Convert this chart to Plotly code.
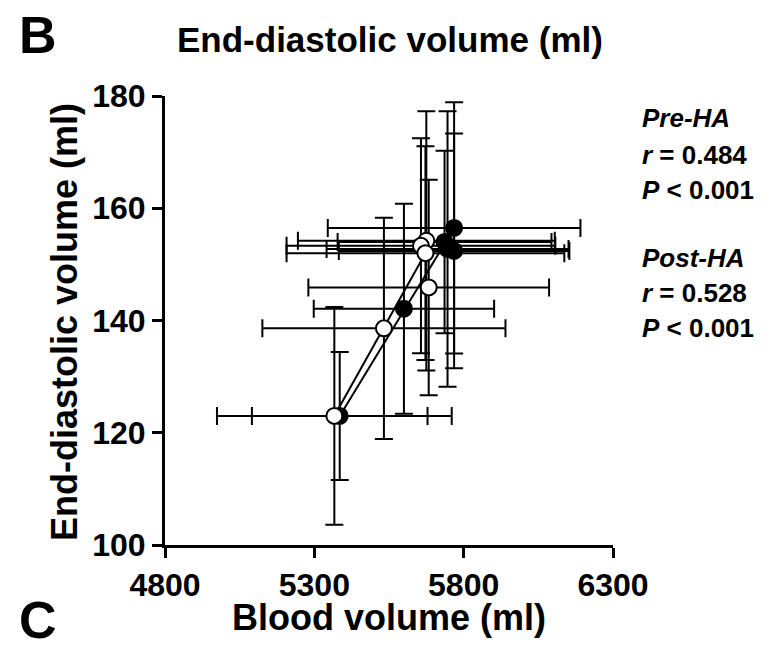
import plotly.graph_objects as go

# Pre-HA (filled) and Post-HA (open) group means with SD
pre_bv = [5768, 5736, 5746, 5768, 5600, 5385]
pre_bv_sd = [423, 358, 405, 386, 302, 294]
pre_edv = [156.5, 154.0, 152.75, 152.4, 142.1, 123.0]
pre_edv_sd = [22.4, 16.25, 24.55, 20.9, 18.7, 11.4]

post_bv = [5675, 5657, 5672, 5683, 5533, 5367]
post_bv_sd = [430, 450, 465, 403, 407, 393]
post_edv = [154.2, 153.3, 152.0, 145.9, 138.6, 123.0]
post_edv_sd = [23.1, 19.15, 19.05, 19.2, 19.7, 19.4]

# Regression line end points
pre_fit_bv = [5385, 5740]
pre_fit_edv = [123.0, 154.0]
post_fit_bv = [5367, 5672]
post_fit_edv = [123.0, 152.0]

x_ticks = [4800, 5300, 5800, 6300]
y_ticks = [100, 120, 140, 160, 180]

stats = [
    ("<b><i>Pre-HA</i></b>", 118),
    ("<b><i>r</i> = 0.484</b>", 155),
    ("<b><i>P</i> &lt; 0.001</b>", 190),
    ("<b><i>Post-HA</i></b>", 258),
    ("<b><i>r</i> = 0.528</b>", 293),
    ("<b><i>P</i> &lt; 0.001</b>", 328),
]

FONT = "Liberation Sans, Arial, sans-serif"
W, H = 776, 650
L, R, T, B = 165, 613, 96, 545  # plot area in px
pw, ph = R - L, B - T


def px(x):
    return (x - L) / pw


def py(y):
    return (B - y) / ph


def err(arr, width=9):
    return dict(type="data", array=arr, visible=True, color="black",
                thickness=2, width=width)


fig = go.Figure()

fig.add_trace(go.Scatter(
    x=pre_fit_bv, y=pre_fit_edv, mode="lines",
    line=dict(color="black", width=2), hoverinfo="skip", showlegend=False))
fig.add_trace(go.Scatter(
    x=post_fit_bv, y=post_fit_edv, mode="lines",
    line=dict(color="black", width=2), hoverinfo="skip", showlegend=False))

fig.add_trace(go.Scatter(
    x=pre_bv, y=pre_edv, mode="markers", name="Pre-HA",
    error_x=err(pre_bv_sd), error_y=err(pre_edv_sd),
    marker=dict(size=16, color="black", line=dict(color="black", width=2)),
    showlegend=False))
fig.add_trace(go.Scatter(
    x=post_bv, y=post_edv, mode="markers", name="Post-HA",
    error_x=err(post_bv_sd), error_y=err(post_edv_sd),
    marker=dict(size=16, color="white", line=dict(color="black", width=2)),
    showlegend=False))

axis_common = dict(
    showgrid=False, zeroline=False, showline=True, linecolor="black",
    linewidth=3, ticks="outside", ticklen=10, tickwidth=3, tickcolor="black",
    tickfont=dict(family=FONT, size=32, color="black"),
)

fig.update_xaxes(range=[4800, 6300], tickvals=x_ticks,
                 ticktext=[f"<b>{v}</b>" for v in x_ticks], **axis_common)
fig.update_yaxes(range=[100, 180], tickvals=y_ticks,
                 ticktext=[f"<b>{v}</b>" for v in y_ticks], **axis_common)

ann = []
ann.append(dict(text="<b>End-diastolic volume (ml)</b>", x=px(390), y=py(39),
                font=dict(size=35)))
ann.append(dict(text="<b>B</b>", x=px(38), y=py(35), font=dict(size=52)))
ann.append(dict(text="<b>C</b>", x=px(38), y=py(620), font=dict(size=52)))
ann.append(dict(text="<b>Blood volume (ml)</b>", x=px(389), y=py(617),
                font=dict(size=36)))
ann.append(dict(text="<b>End-diastolic volume (ml)</b>", x=px(64), y=py(322),
                textangle=-90, font=dict(size=36)))
for txt, yy in stats:
    ann.append(dict(text=txt, x=px(640), y=py(yy), xanchor="left",
                    font=dict(size=26)))

for a in ann:
    a.setdefault("xanchor", "center")
    a.update(xref="paper", yref="paper", yanchor="middle", showarrow=False)
    a["font"].update(family=FONT, color="black")

fig.update_layout(
    width=W, height=H,
    margin=dict(l=L, r=W - R, t=T, b=H - B, pad=0),
    paper_bgcolor="white", plot_bgcolor="white",
    annotations=ann,
)

fig.write_html("out.html")
